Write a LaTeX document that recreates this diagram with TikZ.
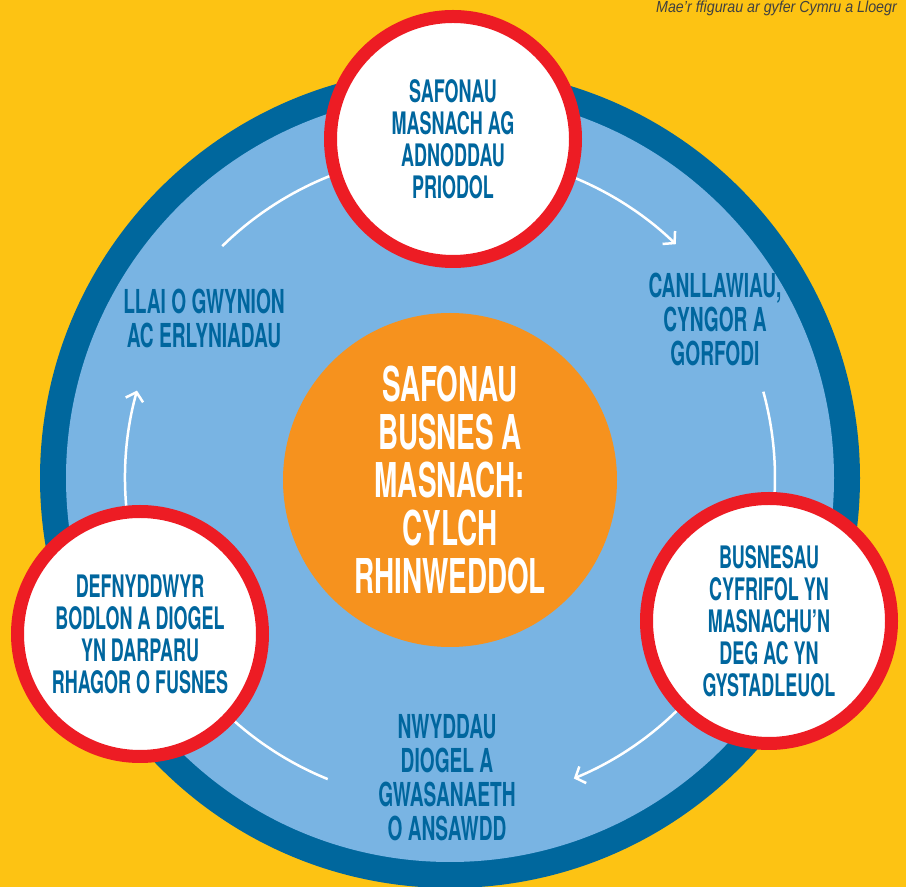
\documentclass[tikz,border=0pt]{standalone}
\usepackage{fontspec}
\usetikzlibrary{arrows.meta}
\newfontfamily\bebas{TeX Gyre Heros}[FakeStretch=0.58]
\newfontfamily\notefont{Liberation Sans}[FakeStretch=0.89]
\definecolor{bgyellow}{HTML}{FDC313}
\definecolor{ringblue}{HTML}{00679D}
\definecolor{lightblue}{HTML}{79B4E3}
\definecolor{ringred}{HTML}{ED1C24}
\definecolor{hubor}{HTML}{F6921E}
\definecolor{textblue}{HTML}{00669E}
\begin{document}
\begin{tikzpicture}[x=1pt,y=1pt,
  bubble/.style={circle, draw=ringred, line width=13pt, fill=white, minimum size=245pt, inner sep=0pt, align=center, text=textblue, font=\bebas\bfseries\fontsize{31}{32}\selectfont},
  hub/.style={circle, fill=hubor, minimum size=334pt, inner sep=0pt, align=center, text=white, font=\bebas\bfseries\fontsize{48}{48}\selectfont},
  stagelabel/.style={align=center, text=textblue, inner sep=0pt, font=\bebas\bfseries\fontsize{33}{34}\selectfont},
  flow/.style={draw=white, line width=2.5pt},
  flowarrow/.style={flow, -{Straight Barb[length=8pt,width=18pt]}}]
\useasboundingbox (0,0) rectangle (906,887);
\fill[bgyellow] (0,0) rectangle (906,887);
\coordinate (ctr) at (450,409);
\fill[ringblue] (ctr) circle[radius=410];
\fill[lightblue] (ctr) circle[radius=384];
% flow arcs
\draw[flow] (ctr) ++(134.5:325) arc[start angle=134.5, end angle=108, radius=325];
\draw[flowarrow] (ctr) ++(72:325) arc[start angle=72, end angle=46, radius=325];
\draw[flow] (ctr) ++(15.4:325) arc[start angle=15.4, end angle=-5, radius=325];
\draw[flowarrow] (ctr) ++(-40:325) arc[start angle=-40, end angle=-67.6, radius=325];
\draw[flow] (ctr) ++(247.9:325) arc[start angle=247.9, end angle=225, radius=325];
\draw[flowarrow] (ctr) ++(190:325) arc[start angle=190, end angle=164.4, radius=325];
% hub
\node[hub] (hub) at (450,407) {SAFONAU\\BUSNES A\\MASNACH:\\CYLCH\\RHINWEDDOL};
% bubbles
\node[bubble] (top) at (453,748) {SAFONAU\\MASNACH AG\\ADNODDAU\\PRIODOL};
\node[bubble] (right) at (769,266) {BUSNESAU\\CYFRIFOL YN\\MASNACHU’N\\DEG AC YN\\GYSTADLEUOL};
\node[bubble] (left) at (140,253) {DEFNYDDWYR\\BODLON A DIOGEL\\YN DARPARU\\RHAGOR O FUSNES};
% stage labels
\node[stagelabel] (guide) at (715,568) {CANLLAWIAU,\\CYNGOR A\\GORFODI};
\node[stagelabel] (goods) at (447,109) {NWYDDAU\\DIOGEL A\\GWASANAETH\\O ANSAWDD};
\node[stagelabel] (fewer) at (204,569) {LLAI O GWYNION\\AC ERLYNIADAU};
% note
\node[anchor=base east, inner sep=0pt, text=black!75, font=\notefont\itshape\fontsize{16}{16}\selectfont] (note) at (897,874) {Mae’r ffigurau ar gyfer Cymru a Lloegr};
\end{tikzpicture}
\end{document}
